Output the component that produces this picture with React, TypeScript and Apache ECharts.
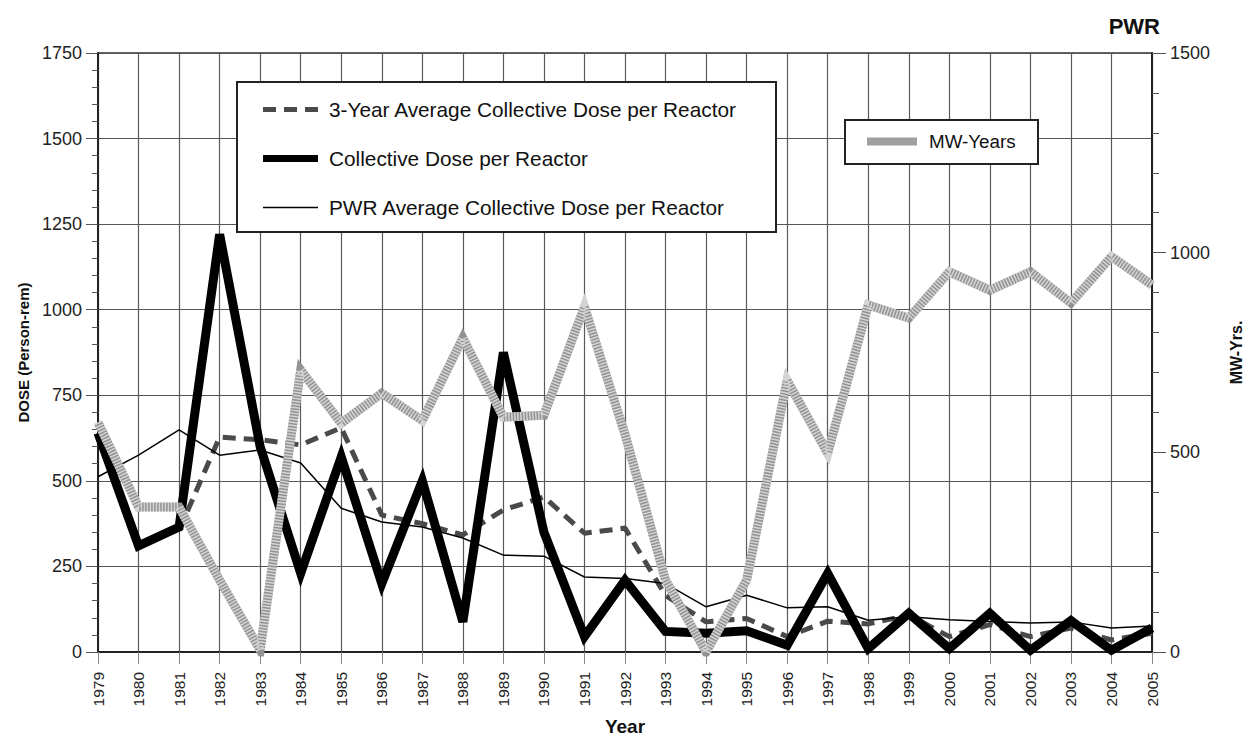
import React, { useEffect, useRef } from 'react';
import * as echarts from 'echarts';

const years = ['1979','1980','1981','1982','1983','1984','1985','1986','1987','1988','1989','1990','1991','1992','1993','1994','1995','1996','1997','1998','1999','2000','2001','2002','2003','2004','2005'];

const threeYearAvgName = '3-Year Average Collective Dose per Reactor';
const collectiveName = 'Collective Dose per Reactor';
const pwrAvgName = 'PWR Average Collective Dose per Reactor';
const mwName = 'MW-Years';

const collectiveDose = [640, 310, 365, 1220, 600, 230, 570, 200, 500, 88, 875, 350, 45, 210, 60, 55, 62, 20, 230, 10, 113, 10, 113, 5, 92, 5, 70];
const threeYearAvg = [null, null, 355, 628, 620, 605, 655, 400, 375, 342, 415, 453, 347, 362, 165, 88, 98, 45, 90, 82, 108, 45, 80, 45, 70, 35, 55];
const pwrAverage = [512, 575, 649, 575, 590, 552, 420, 380, 365, 333, 283, 280, 219, 215, 200, 132, 166, 129, 132, 93, 103, 94, 89, 85, 88, 70, 76];
const mwYears = [575, 363, 363, 180, 5, 706, 573, 648, 580, 786, 588, 593, 864, 545, 180, 0, 180, 680, 498, 869, 836, 952, 906, 952, 874, 990, 919];

const doseTicks = { min: 0, max: 1750, interval: 250 };
const mwTicks = { min: 0, max: 1500, interval: 500 };

const ICON_DASHED = 'path://M0,0H13V5H0Z M21,0H34V5H21Z M42,0H55V5H42Z';
const ICON_THICK = 'path://M0,0H55V7H0Z';
const ICON_THIN = 'path://M0,0H55V1.6H0Z';
const ICON_MW = 'path://M0,0H50V8H0Z';

export default function App() {
  const ref = useRef<HTMLDivElement>(null);
  useEffect(() => {
    document.body.style.margin = '0';
    const chart = echarts.init(ref.current as HTMLDivElement, null, { renderer: 'svg' });
    const font = 'Liberation Sans, Arial, Helvetica, sans-serif';
    const plain = (v: number) => String(v);
    chart.setOption({
      animation: false,
      backgroundColor: '#ffffff',
      textStyle: { fontFamily: font },
      title: {
        text: 'PWR',
        right: 81,
        top: 10,
        textStyle: { fontSize: 22, fontWeight: 'bold', fontFamily: font, color: '#111' },
      },
      grid: {
        left: 98, right: 94, top: 53, bottom: 89,
        outerBoundsMode: 'none',
        containLabel: false,
        show: true, borderColor: '#333', borderWidth: 1.5, backgroundColor: 'transparent',
      },
      graphic: [
        { type: 'rect', z: 3, shape: { x: 237, y: 82, width: 539, height: 150 }, style: { fill: '#fff', stroke: '#222', lineWidth: 2 } },
        { type: 'rect', z: 3, shape: { x: 845, y: 120, width: 193, height: 44 }, style: { fill: '#fff', stroke: '#222', lineWidth: 2 } },
      ],
      legend: [
        {
          orient: 'vertical',
          left: 258,
          top: 94,
          z: 5,
          itemWidth: 55,
          itemHeight: 22,
          itemGap: 28,
          selectedMode: false,
          data: [
            { name: threeYearAvgName, icon: ICON_DASHED },
            { name: collectiveName, icon: ICON_THICK },
            { name: pwrAvgName, icon: ICON_THIN },
          ],
          textStyle: { fontFamily: font, fontSize: 20.8, color: '#111', padding: [0, 0, 0, 6] },
        },
        {
          orient: 'vertical',
          left: 862,
          top: 127,
          z: 5,
          itemWidth: 50,
          itemHeight: 20,
          selectedMode: false,
          data: [{ name: mwName, icon: ICON_MW }],
          textStyle: { fontFamily: font, fontSize: 18.8, color: '#111', padding: [0, 0, 0, 7] },
        },
      ],
      xAxis: {
        type: 'category',
        data: years,
        boundaryGap: false,
        axisLine: { lineStyle: { color: '#222', width: 2 } },
        axisTick: { show: true, interval: 0, length: 12, lineStyle: { color: '#888' } },
        axisLabel: { interval: 0, rotate: 90, fontSize: 15.5, color: '#222', margin: 20, fontFamily: font },
        splitLine: { show: true, interval: 0, lineStyle: { color: '#5a5a5a', width: 1.2 } },
        name: 'Year',
        nameLocation: 'middle',
        nameGap: 65,
        nameTextStyle: { fontSize: 19, fontWeight: 'bold', color: '#111', fontFamily: font },
      },
      yAxis: [
        {
          type: 'value',
          min: doseTicks.min,
          max: doseTicks.max,
          interval: doseTicks.interval,
          axisLine: { show: true, lineStyle: { color: '#222', width: 2 } },
          axisTick: { show: true, length: 12, lineStyle: { color: '#555' } },
          minorTick: { show: true, splitNumber: 5, length: 6, lineStyle: { color: '#555' } },
          axisLabel: { fontSize: 18, color: '#222', margin: 16, fontFamily: font, formatter: plain },
          splitLine: { show: true, lineStyle: { color: '#555', width: 1.2 } },
          name: 'DOSE (Person-rem)',
          nameLocation: 'middle',
          nameRotate: 90,
          nameGap: 64,
          nameTextStyle: { fontSize: 15, fontWeight: 'bold', color: '#111', fontFamily: font },
        },
        {
          type: 'value',
          position: 'right',
          min: mwTicks.min,
          max: mwTicks.max,
          interval: mwTicks.interval,
          axisLine: { show: true, lineStyle: { color: '#222', width: 2 } },
          axisTick: { show: true, length: 14, lineStyle: { color: '#555' } },
          minorTick: { show: true, splitNumber: 5, length: 7, lineStyle: { color: '#555' } },
          axisLabel: { fontSize: 18, color: '#222', margin: 18, fontFamily: font, formatter: plain },
          splitLine: { show: false },
          name: 'MW-Yrs.',
          nameLocation: 'middle',
          nameRotate: 90,
          nameGap: 76,
          nameTextStyle: { fontSize: 16, fontWeight: 'bold', color: '#111', fontFamily: font },
        },
      ],
      series: [
        {
          name: threeYearAvgName,
          type: 'line',
          data: threeYearAvg,
          symbol: 'none',
          z: 2,
          lineStyle: { color: '#4a4a4a', width: 5, type: [13, 8] },
          itemStyle: { color: '#4a4a4a' },
        },
        {
          name: pwrAvgName,
          type: 'line',
          data: pwrAverage,
          symbol: 'none',
          z: 3,
          lineStyle: { color: '#000', width: 1.5 },
          itemStyle: { color: '#000' },
        },
        {
          name: collectiveName,
          type: 'line',
          data: collectiveDose,
          symbol: 'none',
          z: 4,
          lineStyle: { color: '#000', width: 9, join: 'miter', miterLimit: 10 },
          itemStyle: { color: '#000' },
        },
        {
          name: mwName,
          type: 'line',
          yAxisIndex: 1,
          data: mwYears,
          symbol: 'none',
          z: 5,
          lineStyle: { color: '#939393', width: 9, join: 'miter', miterLimit: 10 },
          itemStyle: { color: '#a0a0a0' },
        },
        {
          name: 'MW-Years texture',
          type: 'line',
          yAxisIndex: 1,
          data: mwYears,
          symbol: 'none',
          silent: true,
          z: 6,
          lineStyle: { color: 'rgba(255,255,255,0.6)', width: 9, type: [1.5, 1.5], join: 'miter', miterLimit: 10 },
          itemStyle: { color: '#bbb' },
        },
      ],
    });
    return () => chart.dispose();
  }, []);
  return <div ref={ref} style={{ width: 1246, height: 741 }} />;
}
